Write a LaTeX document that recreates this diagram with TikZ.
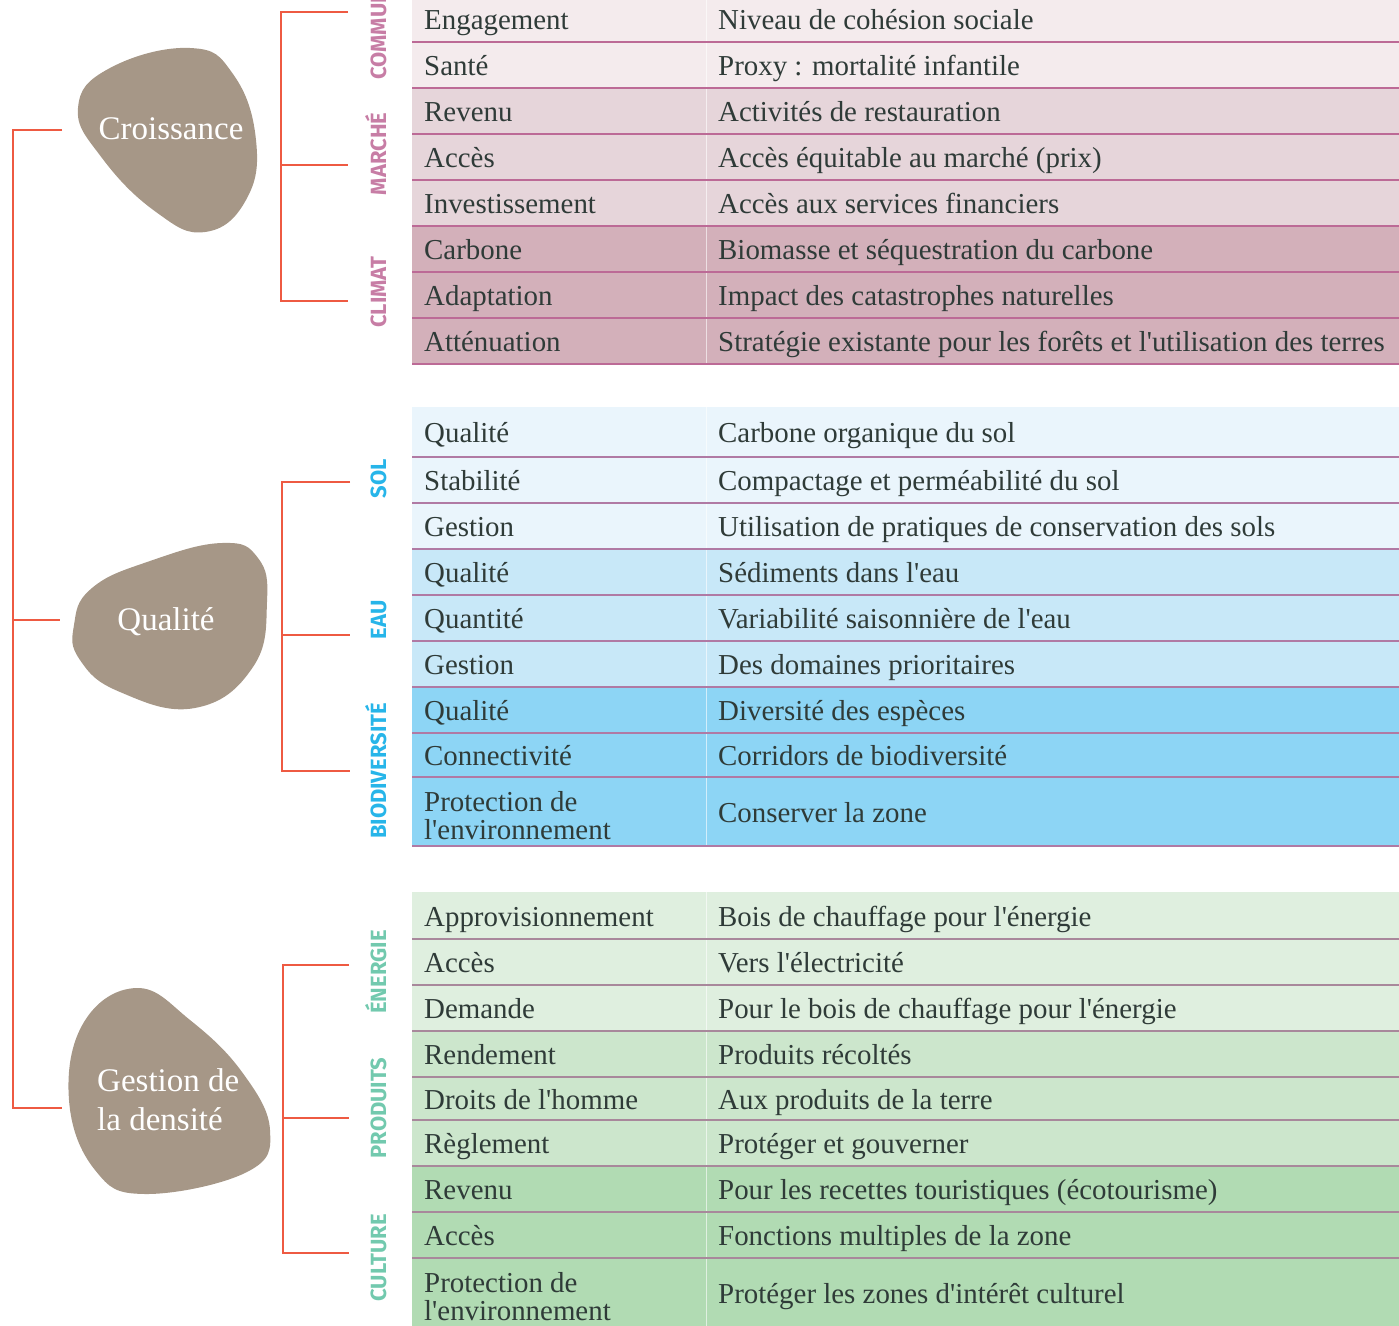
\documentclass[tikz,border=0pt]{standalone}
\usepackage{fontspec}
\setmainfont{Liberation Serif}[Ligatures=TeXOff]
\newfontfamily\labfont{Fira Sans}
\definecolor{blob}{HTML}{A69787}
\definecolor{tree}{HTML}{EE5A42}
\definecolor{ink}{HTML}{2F3B38}
\definecolor{pkA}{HTML}{F4EBED}
\definecolor{pkB}{HTML}{E6D5DA}
\definecolor{pkC}{HTML}{D3B0BA}
\definecolor{blA}{HTML}{EAF5FC}
\definecolor{blB}{HTML}{C8E8F8}
\definecolor{blC}{HTML}{8DD5F5}
\definecolor{grA}{HTML}{DFEFDF}
\definecolor{grB}{HTML}{CCE6CC}
\definecolor{grC}{HTML}{B1DBB3}
\definecolor{labpk}{HTML}{C77DA5}
\definecolor{labbl}{HTML}{27B5E9}
\definecolor{labgr}{HTML}{72C9AE}
\definecolor{rulepk}{HTML}{BC6A96}
\definecolor{rulebl}{HTML}{B07AA4}
\definecolor{rulegr}{HTML}{A8889B}

\tikzset{
  cell/.style={anchor=base west, inner sep=0pt, text=ink, font=\fontsize{28.9}{28}\selectfont},
  cellmulti/.style={anchor=west, inner sep=0pt, text=ink, align=left, font=\fontsize{28.9}{28}\selectfont},
  blobtxt/.style={inner sep=0pt, text=white, align=left, font=\fontsize{33}{39}\selectfont},
  cat/.style={rotate=90, inner sep=0pt, font=\labfont\bfseries\fontsize{22}{22}\selectfont},
  tree/.style={draw=tree, line width=2.8pt},
  colsep/.style={draw=white, line width=1pt, opacity=.6},
}

% one table row: top, bottom, fill, left cell, right cell
\newcommand\tabrow[5]{%
  \fill[#3] (412,#1) rectangle (1399,#2);
  \node[cell] at (424,{(#1+#2)/2+10.5}) {#4};
  \node[cell] at (718,{(#1+#2)/2+10.5}) {#5};
}
% row whose left cell runs over two lines
\newcommand\tabrowtwo[5]{%
  \fill[#3] (412,#1) rectangle (1399,#2);
  \node[cellmulti] at (424,{(#1+#2)/2+4}) {#4};
  \node[cell] at (718,{(#1+#2)/2+10.5}) {#5};
}
\newcommand\rowrule[2]{\draw[draw=#1, line width=2pt] (412,#2) -- (1399,#2);}

\begin{document}
\begin{tikzpicture}[x=1pt,y=-1pt]
\useasboundingbox (0,0) rectangle (1399,1325);
\clip (0,0) rectangle (1399,1325);

% ---------- communauté / marché / climat ----------
\tabrow{-4}{42}{pkA}{Engagement}{Niveau de cohésion sociale}
\tabrow{42}{88}{pkA}{Santé}{Proxy : mortalité infantile}
\tabrow{88}{134}{pkB}{Revenu}{Activités de restauration}
\tabrow{134}{180}{pkB}{Accès}{Accès équitable au marché (prix)}
\tabrow{180}{226}{pkB}{Investissement}{Accès aux services financiers}
\tabrow{226}{272}{pkC}{Carbone}{Biomasse et séquestration du carbone}
\tabrow{272}{318}{pkC}{Adaptation}{Impact des catastrophes naturelles}
\tabrow{318}{364}{pkC}{Atténuation}{Stratégie existante pour les forêts et l'utilisation des terres}
\draw[colsep] (706,-4) -- (706,364);
\foreach \y in {42,88,134,180,226,272,318,364} {\rowrule{rulepk}{\y}}

% ---------- sol / eau / biodiversité ----------
\tabrow{407}{457}{blA}{Qualité}{Carbone organique du sol}
\tabrow{457}{503}{blA}{Stabilité}{Compactage et perméabilité du sol}
\tabrow{503}{549}{blA}{Gestion}{Utilisation de pratiques de conservation des sols}
\tabrow{549}{595}{blB}{Qualité}{Sédiments dans l'eau}
\tabrow{595}{641}{blB}{Quantité}{Variabilité saisonnière de l'eau}
\tabrow{641}{687}{blB}{Gestion}{Des domaines prioritaires}
\tabrow{687}{733}{blC}{Qualité}{Diversité des espèces}
\tabrow{733}{777}{blC}{Connectivité}{Corridors de biodiversité}
\tabrowtwo{777}{846}{blC}{Protection de\\l'environnement}{Conserver la zone}
\draw[colsep] (706,407) -- (706,846);
\foreach \y in {457,503,549,595,641,687,733,777,846} {\rowrule{rulebl}{\y}}

% ---------- énergie / produits / culture ----------
\tabrow{892}{939}{grA}{Approvisionnement}{Bois de chauffage pour l'énergie}
\tabrow{939}{985}{grA}{Accès}{Vers l'électricité}
\tabrow{985}{1031}{grA}{Demande}{Pour le bois de chauffage pour l'énergie}
\tabrow{1031}{1077}{grB}{Rendement}{Produits récoltés}
\tabrow{1077}{1120}{grB}{Droits de l'homme}{Aux produits de la terre}
\tabrow{1120}{1166}{grB}{Règlement}{Protéger et gouverner}
\tabrow{1166}{1212}{grC}{Revenu}{Pour les recettes touristiques (écotourisme)}
\tabrow{1212}{1258}{grC}{Accès}{Fonctions multiples de la zone}
\tabrowtwo{1258}{1328}{grC}{Protection de\\l'environnement}{Protéger les zones d'intérêt culturel}
\draw[colsep] (706,892) -- (706,1328);
\foreach \y in {939,985,1031,1077,1120,1166,1212,1258} {\rowrule{rulegr}{\y}}

% ---------- vertical category labels ----------
\node[cat, text=labpk, anchor=base west] (commun) at (386,80) {COMMUNAUTÉ};
\node[cat, text=labpk, anchor=base] (marche) at (386,154) {MARCHÉ};
\node[cat, text=labpk, anchor=base] (climat) at (386,292) {CLIMAT};
\node[cat, text=labbl, anchor=base] (sol) at (386,479) {SOL};
\node[cat, text=labbl, anchor=base] (eau) at (386,620) {EAU};
\node[cat, text=labbl, anchor=base] (biodiv) at (386,771) {BIODIVERSITÉ};
\node[cat, text=labgr, anchor=base] (energie) at (386,972) {ÉNERGIE};
\node[cat, text=labgr, anchor=base] (produits) at (386,1108) {PRODUITS};
\node[cat, text=labgr, anchor=base] (culture) at (386,1258) {CULTURE};

% ---------- pebbles ----------
\fill[blob] plot[smooth cycle, tension=0.75] coordinates
  {(78,108) (110,68) (190,48) (233,74) (256,140) (246,200) (205,232) (156,212) (102,158)};
\node[blobtxt] (croissance) at (171,129) {Croissance};

\fill[blob] plot[smooth cycle, tension=0.75] coordinates
  {(74,625) (92,588) (150,561) (222,543) (258,558) (267,602) (253,667) (195,708) (120,692) (80,660)};
\node[blobtxt] (qualite) at (166,622) {Qualité};

\fill[blob] plot[smooth cycle, tension=0.7] coordinates
  {(137,988) (190,1020) (242,1072) (270,1130) (247,1172) (145,1194) (95,1170) (69,1100) (84,1022)};
\node[blobtxt, anchor=north west] (gestion) at (97,1068) {Gestion de\\la densité};

% ---------- tree connectors ----------
\coordinate (rootA) at (62,130);
\coordinate (rootB) at (60,620);
\coordinate (rootC) at (62,1108);
\draw[tree] (rootA) -- (13,130) -- (13,1108) -- (rootC);
\draw[tree] (13,620) -- (rootB);

\coordinate (a1) at (348,12);
\coordinate (a2) at (348,165);
\coordinate (a3) at (348,301);
\draw[tree] (a1) -- (281,12) -- (281,301) -- (a3);
\draw[tree] (281,165) -- (a2);

\coordinate (b1) at (350,482);
\coordinate (b2) at (350,635);
\coordinate (b3) at (350,771);
\draw[tree] (b1) -- (282,482) -- (282,771) -- (b3);
\draw[tree] (282,635) -- (b2);

\coordinate (c1) at (349,965);
\coordinate (c2) at (349,1118);
\coordinate (c3) at (349,1253);
\draw[tree] (c1) -- (283,965) -- (283,1253) -- (c3);
\draw[tree] (283,1118) -- (c2);
\end{tikzpicture}
\end{document}
